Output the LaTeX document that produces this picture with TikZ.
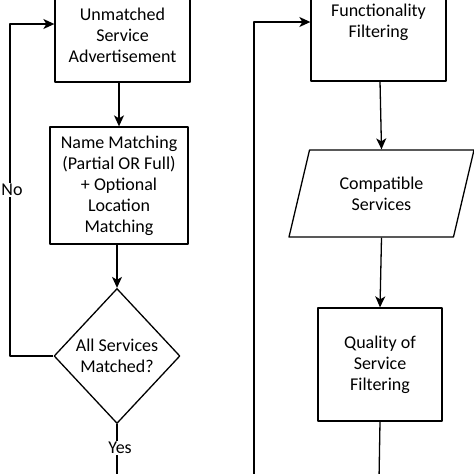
\documentclass[tikz,border=0pt]{standalone}
\usepackage{fontspec}
\setmainfont{Carlito}
\usetikzlibrary{shapes.geometric,arrows.meta}
\begin{document}
\begin{tikzpicture}[x=1pt,y=-1pt,>={Stealth[length=11pt,width=10pt,inset=3pt]}, line join=round, line width=1.3pt,
  font=\fontsize{18}{21}\selectfont,
  blok/.style={draw, rectangle, align=center, inner sep=2pt},
  keuze/.style={draw, diamond, align=center, inner sep=0pt, minimum width=126pt, minimum height=135pt},
  invoer/.style={draw, trapezium, trapezium left angle=63, trapezium right angle=117,
    trapezium stretches body, align=center, minimum width=185pt, minimum height=87pt},
  etiket/.style={fill=white, inner sep=1.5pt}]
\def\W{474} \def\H{474}
\useasboundingbox (0,0) rectangle (\W,\H);
\clip (0,0) rectangle (\W,\H);
% linker kolom
\node[blok, minimum width=135pt, minimum height=94pt] (unm) at (122.5,35) {Unmatched\\Service\\Advertisement};
\node[blok, minimum width=138pt, minimum height=117pt] (name) at (119,185.5) {Name Matching\\(Partial OR Full)\\+ Optional\\Location\\Matching};
\node[keuze] (all) at (117,356) {All Services\\Matched?};
\coordinate (terug) at (10,24);
\coordinate (uitL) at (117,480);
\draw[->] (name.north |- unm.south) -- (name.north);
\draw[->] (all.north |- name.south) -- (all.north);
\draw[->] (all.west) -- (terug |- all.west) -- (terug) -- (terug -| unm.west);
\draw (all.south) -- (uitL);
\node[etiket] (nee) at (12,190) {No};
\node[etiket] (ja) at (120,448) {Yes};
% rechter kolom
\node[blok, minimum width=135pt, minimum height=117pt] (func) at (378.5,22.5) {Functionality\\Filtering};
\node[invoer] (comp) at (381.5,193.5) {Compatible\\Services};
\node[blok, minimum width=124pt, minimum height=113pt] (qos) at (380,364.5) {Quality of\\Service\\Filtering};
\coordinate (lus) at (254,22);
\coordinate (uitR) at (379,480);
\draw[->] (254,480) -- (lus) -- (lus -| func.west);
\draw[->] (380,81) -- (comp.north);
\draw[->] (comp.south) -- (qos.north);
\draw (qos.south) -- (uitR);
\end{tikzpicture}
\end{document}
